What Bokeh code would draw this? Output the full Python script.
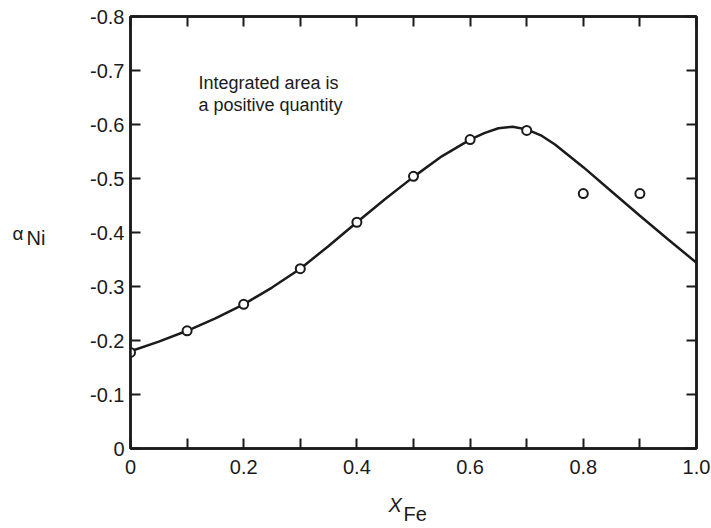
from bokeh.plotting import figure
from bokeh.models import (Range1d, LinearAxis, FixedTicker, CustomJSTickFormatter, Label)
from bokeh.embed import file_html
from bokeh.resources import INLINE

# ---- data ----
curve_x = [0, 0.05, 0.1, 0.15, 0.2, 0.25, 0.3, 0.35, 0.4, 0.45, 0.5, 0.55, 0.6,
           0.625, 0.65, 0.675, 0.7, 0.725, 0.75, 0.8, 0.85, 0.9, 0.95, 1.0]
curve_y = [-0.180, -0.198, -0.218, -0.241, -0.267, -0.298, -0.333, -0.375, -0.419,
           -0.462, -0.503, -0.541, -0.572, -0.584, -0.593, -0.596, -0.591, -0.580,
           -0.563, -0.521, -0.476, -0.431, -0.387, -0.344]
pts_x = [0, 0.1, 0.2, 0.3, 0.4, 0.5, 0.6, 0.7, 0.8, 0.9]
pts_y = [-0.178, -0.218, -0.267, -0.333, -0.419, -0.504, -0.572, -0.589, -0.472, -0.472]
x_ticks = [0, 0.2, 0.4, 0.6, 0.8, 1.0]
x_minor = [0.1, 0.3, 0.5, 0.7, 0.9]
y_ticks = [0, -0.1, -0.2, -0.3, -0.4, -0.5, -0.6, -0.7, -0.8]
note_lines = ["Integrated area is", "a positive quantity"]

FONT = "Liberation Sans"
INK = "#1b1b1b"

p = figure(width=711, height=528, output_backend="svg", toolbar_location=None,
           x_range=Range1d(0, 1.0), y_range=Range1d(0, -0.8),
           x_axis_type=None, y_axis_type=None,
           min_border_left=130, min_border_right=15,
           min_border_top=16, min_border_bottom=80)
p.background_fill_color = "white"
p.border_fill_color = "white"
p.outline_line_color = INK
p.outline_line_width = 2.5
p.xgrid.visible = False
p.ygrid.visible = False

fmt = CustomJSTickFormatter(code="return tick == 0 ? '0' : tick.toFixed(1);")
blank = CustomJSTickFormatter(code="return '';")

def style(ax, labels=True):
    ax.axis_line_color = INK
    ax.axis_line_width = 2.5
    ax.major_tick_line_color = INK
    ax.major_tick_line_width = 2
    ax.minor_tick_line_color = INK
    ax.minor_tick_line_width = 2
    ax.major_tick_in = 10
    ax.major_tick_out = 0
    ax.minor_tick_in = 10
    ax.minor_tick_out = 0
    ax.major_label_text_font = FONT
    ax.major_label_text_color = INK
    ax.major_label_text_font_size = "20px"
    if labels:
        ax.formatter = fmt
    else:
        ax.formatter = blank
        ax.major_label_standoff = 0

xt = FixedTicker(ticks=x_ticks, minor_ticks=x_minor)
yt = FixedTicker(ticks=y_ticks, minor_ticks=[])

xb = LinearAxis(ticker=xt); style(xb); xb.major_label_standoff = 11
xa = LinearAxis(ticker=xt); style(xa, labels=False)
yl = LinearAxis(ticker=yt); style(yl); yl.major_label_standoff = 6
yr = LinearAxis(ticker=yt); style(yr, labels=False)
p.add_layout(xb, "below")
p.add_layout(xa, "above")
p.add_layout(yl, "left")
p.add_layout(yr, "right")

p.line(curve_x, curve_y, line_color=INK, line_width=2.5)
p.scatter(pts_x, pts_y, marker="circle", size=9, fill_color="white",
          line_color=INK, line_width=2)

# note text (inside the frame)
for i, t in enumerate(note_lines):
    p.add_layout(Label(x=0.12, y=-0.677, y_offset=-22 * i, text=t,
                       text_font=FONT, text_font_size="18px", text_color=INK,
                       text_baseline="alphabetic"))

# y-axis title: alpha_Ni (placed in the left margin panel, positioned by data coords)
p.add_layout(Label(x=0, y=-0.4, x_offset=-118, y_offset=-1, text="α",
                   text_font=FONT, text_font_size="19px", text_color=INK,
                   text_baseline="alphabetic"), "left")
p.add_layout(Label(x=0, y=-0.4, x_offset=-104, y_offset=-5, text="Ni",
                   text_font=FONT, text_font_size="20px", text_color=INK,
                   text_baseline="alphabetic"), "left")

# x-axis title: X_Fe
p.add_layout(Label(x=0.5, y=0, x_offset=-25, y_offset=-56, text="X",
                   text_font=FONT, text_font_size="20px", text_font_style="italic",
                   text_color=INK, text_baseline="alphabetic"), "below")
p.add_layout(Label(x=0.5, y=0, x_offset=-10, y_offset=-65, text="Fe",
                   text_font=FONT, text_font_size="20px",
                   text_color=INK, text_baseline="alphabetic"), "below")

open("out.html", "w").write(file_html(p, INLINE))
